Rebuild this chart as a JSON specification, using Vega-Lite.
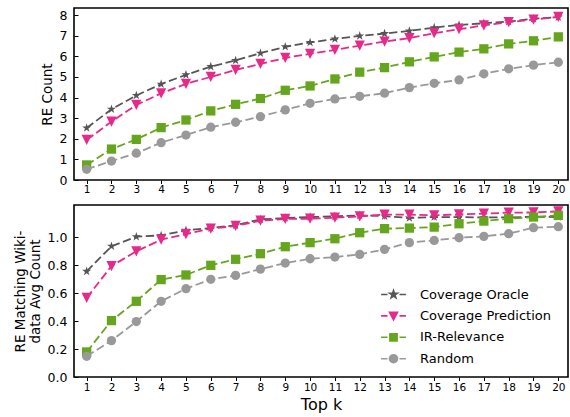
{
  "$schema": "https://vega.github.io/schema/vega-lite/v6.json",
  "padding": {"left": 12, "top": 7, "right": 2, "bottom": 2},
  "spacing": 25,
  "bounds": "flush",
  "config": {
    "font": "DejaVu Sans",
    "view": {"stroke": "black", "strokeWidth": 1.6},
    "axis": {"domain": false, "grid": false, "tickColor": "black", "tickWidth": 1, "labelColor": "black", "titleColor": "black", "titleFontWeight": "normal", "labelFont": "DejaVu Sans", "titleFont": "DejaVu Sans"},
    "legend": {"labelFont": "DejaVu Sans"}
  },
  "datasets": {
    "top": [
      {"k":1,"series":"Coverage Oracle","v":2.52},{"k":2,"series":"Coverage Oracle","v":3.43},{"k":3,"series":"Coverage Oracle","v":4.10},{"k":4,"series":"Coverage Oracle","v":4.65},{"k":5,"series":"Coverage Oracle","v":5.10},{"k":6,"series":"Coverage Oracle","v":5.50},{"k":7,"series":"Coverage Oracle","v":5.80},{"k":8,"series":"Coverage Oracle","v":6.15},{"k":9,"series":"Coverage Oracle","v":6.46},{"k":10,"series":"Coverage Oracle","v":6.67},{"k":11,"series":"Coverage Oracle","v":6.84},{"k":12,"series":"Coverage Oracle","v":6.99},{"k":13,"series":"Coverage Oracle","v":7.10},{"k":14,"series":"Coverage Oracle","v":7.23},{"k":15,"series":"Coverage Oracle","v":7.39},{"k":16,"series":"Coverage Oracle","v":7.52},{"k":17,"series":"Coverage Oracle","v":7.60},{"k":18,"series":"Coverage Oracle","v":7.68},{"k":19,"series":"Coverage Oracle","v":7.82},{"k":20,"series":"Coverage Oracle","v":7.90},
      {"k":1,"series":"Coverage Prediction","v":1.94},{"k":2,"series":"Coverage Prediction","v":2.83},{"k":3,"series":"Coverage Prediction","v":3.64},{"k":4,"series":"Coverage Prediction","v":4.20},{"k":5,"series":"Coverage Prediction","v":4.66},{"k":6,"series":"Coverage Prediction","v":5.00},{"k":7,"series":"Coverage Prediction","v":5.34},{"k":8,"series":"Coverage Prediction","v":5.63},{"k":9,"series":"Coverage Prediction","v":5.92},{"k":10,"series":"Coverage Prediction","v":6.12},{"k":11,"series":"Coverage Prediction","v":6.31},{"k":12,"series":"Coverage Prediction","v":6.52},{"k":13,"series":"Coverage Prediction","v":6.71},{"k":14,"series":"Coverage Prediction","v":6.88},{"k":15,"series":"Coverage Prediction","v":7.12},{"k":16,"series":"Coverage Prediction","v":7.31},{"k":17,"series":"Coverage Prediction","v":7.50},{"k":18,"series":"Coverage Prediction","v":7.65},{"k":19,"series":"Coverage Prediction","v":7.78},{"k":20,"series":"Coverage Prediction","v":7.91},
      {"k":1,"series":"IR-Relevance","v":0.73},{"k":2,"series":"IR-Relevance","v":1.50},{"k":3,"series":"IR-Relevance","v":1.97},{"k":4,"series":"IR-Relevance","v":2.54},{"k":5,"series":"IR-Relevance","v":2.91},{"k":6,"series":"IR-Relevance","v":3.35},{"k":7,"series":"IR-Relevance","v":3.67},{"k":8,"series":"IR-Relevance","v":3.95},{"k":9,"series":"IR-Relevance","v":4.35},{"k":10,"series":"IR-Relevance","v":4.56},{"k":11,"series":"IR-Relevance","v":4.90},{"k":12,"series":"IR-Relevance","v":5.23},{"k":13,"series":"IR-Relevance","v":5.45},{"k":14,"series":"IR-Relevance","v":5.73},{"k":15,"series":"IR-Relevance","v":5.97},{"k":16,"series":"IR-Relevance","v":6.20},{"k":17,"series":"IR-Relevance","v":6.36},{"k":18,"series":"IR-Relevance","v":6.60},{"k":19,"series":"IR-Relevance","v":6.75},{"k":20,"series":"IR-Relevance","v":6.94},
      {"k":1,"series":"Random","v":0.52},{"k":2,"series":"Random","v":0.92},{"k":3,"series":"Random","v":1.30},{"k":4,"series":"Random","v":1.81},{"k":5,"series":"Random","v":2.18},{"k":6,"series":"Random","v":2.56},{"k":7,"series":"Random","v":2.80},{"k":8,"series":"Random","v":3.07},{"k":9,"series":"Random","v":3.40},{"k":10,"series":"Random","v":3.72},{"k":11,"series":"Random","v":3.93},{"k":12,"series":"Random","v":4.06},{"k":13,"series":"Random","v":4.21},{"k":14,"series":"Random","v":4.48},{"k":15,"series":"Random","v":4.69},{"k":16,"series":"Random","v":4.85},{"k":17,"series":"Random","v":5.15},{"k":18,"series":"Random","v":5.39},{"k":19,"series":"Random","v":5.57},{"k":20,"series":"Random","v":5.71}
    ],
    "bottom": [
      {"k":1,"series":"Coverage Oracle","v":0.755},{"k":2,"series":"Coverage Oracle","v":0.934},{"k":3,"series":"Coverage Oracle","v":1.003},{"k":4,"series":"Coverage Oracle","v":1.012},{"k":5,"series":"Coverage Oracle","v":1.048},{"k":6,"series":"Coverage Oracle","v":1.064},{"k":7,"series":"Coverage Oracle","v":1.084},{"k":8,"series":"Coverage Oracle","v":1.126},{"k":9,"series":"Coverage Oracle","v":1.136},{"k":10,"series":"Coverage Oracle","v":1.143},{"k":11,"series":"Coverage Oracle","v":1.148},{"k":12,"series":"Coverage Oracle","v":1.155},{"k":13,"series":"Coverage Oracle","v":1.150},{"k":14,"series":"Coverage Oracle","v":1.136},{"k":15,"series":"Coverage Oracle","v":1.143},{"k":16,"series":"Coverage Oracle","v":1.143},{"k":17,"series":"Coverage Oracle","v":1.140},{"k":18,"series":"Coverage Oracle","v":1.140},{"k":19,"series":"Coverage Oracle","v":1.145},{"k":20,"series":"Coverage Oracle","v":1.143},
      {"k":1,"series":"Coverage Prediction","v":0.565},{"k":2,"series":"Coverage Prediction","v":0.793},{"k":3,"series":"Coverage Prediction","v":0.898},{"k":4,"series":"Coverage Prediction","v":0.981},{"k":5,"series":"Coverage Prediction","v":1.021},{"k":6,"series":"Coverage Prediction","v":1.060},{"k":7,"series":"Coverage Prediction","v":1.079},{"k":8,"series":"Coverage Prediction","v":1.117},{"k":9,"series":"Coverage Prediction","v":1.129},{"k":10,"series":"Coverage Prediction","v":1.131},{"k":11,"series":"Coverage Prediction","v":1.138},{"k":12,"series":"Coverage Prediction","v":1.148},{"k":13,"series":"Coverage Prediction","v":1.160},{"k":14,"series":"Coverage Prediction","v":1.160},{"k":15,"series":"Coverage Prediction","v":1.155},{"k":16,"series":"Coverage Prediction","v":1.162},{"k":17,"series":"Coverage Prediction","v":1.167},{"k":18,"series":"Coverage Prediction","v":1.174},{"k":19,"series":"Coverage Prediction","v":1.176},{"k":20,"series":"Coverage Prediction","v":1.183},
      {"k":1,"series":"IR-Relevance","v":0.179},{"k":2,"series":"IR-Relevance","v":0.403},{"k":3,"series":"IR-Relevance","v":0.541},{"k":4,"series":"IR-Relevance","v":0.696},{"k":5,"series":"IR-Relevance","v":0.729},{"k":6,"series":"IR-Relevance","v":0.798},{"k":7,"series":"IR-Relevance","v":0.841},{"k":8,"series":"IR-Relevance","v":0.881},{"k":9,"series":"IR-Relevance","v":0.931},{"k":10,"series":"IR-Relevance","v":0.960},{"k":11,"series":"IR-Relevance","v":0.988},{"k":12,"series":"IR-Relevance","v":1.031},{"k":13,"series":"IR-Relevance","v":1.060},{"k":14,"series":"IR-Relevance","v":1.064},{"k":15,"series":"IR-Relevance","v":1.071},{"k":16,"series":"IR-Relevance","v":1.095},{"k":17,"series":"IR-Relevance","v":1.114},{"k":18,"series":"IR-Relevance","v":1.131},{"k":19,"series":"IR-Relevance","v":1.143},{"k":20,"series":"IR-Relevance","v":1.155},
      {"k":1,"series":"Random","v":0.148},{"k":2,"series":"Random","v":0.260},{"k":3,"series":"Random","v":0.396},{"k":4,"series":"Random","v":0.541},{"k":5,"series":"Random","v":0.631},{"k":6,"series":"Random","v":0.698},{"k":7,"series":"Random","v":0.726},{"k":8,"series":"Random","v":0.771},{"k":9,"series":"Random","v":0.814},{"k":10,"series":"Random","v":0.845},{"k":11,"series":"Random","v":0.857},{"k":12,"series":"Random","v":0.876},{"k":13,"series":"Random","v":0.912},{"k":14,"series":"Random","v":0.960},{"k":15,"series":"Random","v":0.976},{"k":16,"series":"Random","v":0.995},{"k":17,"series":"Random","v":1.005},{"k":18,"series":"Random","v":1.024},{"k":19,"series":"Random","v":1.067},{"k":20,"series":"Random","v":1.074}
    ]
  },
  "vconcat": [
    {
      "width": 494,
      "height": 172,
      "data": {"name": "top"},
      "encoding": {
        "x": {"field": "k", "type": "quantitative", "scale": {"domain": [0.49, 20.39], "nice": false, "zero": false},
              "axis": {"values": [1,2,3,4,5,6,7,8,9,10,11,12,13,14,15,16,17,18,19,20], "title": null, "labelFontSize": 10.5, "tickSize": 3.5, "labelPadding": 1, "labelFlush": false}},
        "y": {"field": "v", "type": "quantitative", "scale": {"domain": [0, 8.34], "nice": false, "zero": true},
              "axis": {"values": [0,1,2,3,4,5,6,7,8], "title": "RE Count", "labelFontSize": 12.5, "titleFontSize": 13.5, "tickSize": -4, "labelPadding": 11, "titlePadding": 5, "labelFlush": false}}
      },
      "layer": [
        {"transform": [{"filter": "datum.series == 'Coverage Oracle'"}],
         "mark": {"type": "line", "color": "#555555", "strokeWidth": 1.8, "strokeDash": [8.3, 3.6], "point": {"shape": "M0,-1L0.2245,-0.309L0.951,-0.309L0.363,0.118L0.588,0.809L0,0.382L-0.588,0.809L-0.363,0.118L-0.951,-0.309L-0.2245,-0.309Z", "size": 90, "filled": true, "color": "#555555", "opacity": 1}}},
        {"transform": [{"filter": "datum.series == 'Coverage Prediction'"}],
         "mark": {"type": "line", "color": "#e7298a", "strokeWidth": 1.8, "strokeDash": [8.3, 3.6], "point": {"shape": "M-1,-1L1,-1L0,1Z", "size": 105, "filled": true, "color": "#e7298a", "opacity": 1}}},
        {"transform": [{"filter": "datum.series == 'IR-Relevance'"}],
         "mark": {"type": "line", "color": "#66a61e", "strokeWidth": 1.8, "strokeDash": [8.3, 3.6], "point": {"shape": "square", "size": 86, "filled": true, "color": "#66a61e", "opacity": 1}}},
        {"transform": [{"filter": "datum.series == 'Random'"}],
         "mark": {"type": "line", "color": "#999999", "strokeWidth": 1.8, "strokeDash": [8.3, 3.6], "point": {"shape": "circle", "size": 86, "filled": true, "color": "#999999", "opacity": 1}}}
      ]
    },
    {
      "width": 494,
      "height": 172,
      "data": {"name": "bottom"},
      "encoding": {
        "x": {"field": "k", "type": "quantitative", "scale": {"domain": [0.49, 20.39], "nice": false, "zero": false},
              "axis": {"values": [1,2,3,4,5,6,7,8,9,10,11,12,13,14,15,16,17,18,19,20], "title": "Top k", "titleFontSize": 16, "titlePadding": 3, "labelFontSize": 10.5, "tickSize": 3.5, "labelPadding": 2, "labelFlush": false}},
        "y": {"field": "v", "type": "quantitative", "scale": {"domain": [0, 1.229], "nice": false, "zero": true},
              "axis": {"values": [0,0.2,0.4,0.6,0.8,1.0], "format": ".1f", "title": ["RE Matching Wiki-", "data Avg Count"], "titleLineHeight": 15, "labelFontSize": 12.5, "titleFontSize": 13.5, "tickSize": -4, "labelPadding": 11, "titlePadding": 5, "labelFlush": false}}
      },
      "layer": [
        {"transform": [{"filter": "datum.series == 'Coverage Oracle'"}],
         "mark": {"type": "line", "color": "#555555", "strokeWidth": 1.8, "strokeDash": [8.3, 3.6], "point": {"shape": "M0,-1L0.2245,-0.309L0.951,-0.309L0.363,0.118L0.588,0.809L0,0.382L-0.588,0.809L-0.363,0.118L-0.951,-0.309L-0.2245,-0.309Z", "size": 90, "filled": true, "color": "#555555", "opacity": 1}}},
        {"transform": [{"filter": "datum.series == 'Coverage Prediction'"}],
         "mark": {"type": "line", "color": "#e7298a", "strokeWidth": 1.8, "strokeDash": [8.3, 3.6], "point": {"shape": "M-1,-1L1,-1L0,1Z", "size": 105, "filled": true, "color": "#e7298a", "opacity": 1}}},
        {"transform": [{"filter": "datum.series == 'IR-Relevance'"}],
         "mark": {"type": "line", "color": "#66a61e", "strokeWidth": 1.8, "strokeDash": [8.3, 3.6], "point": {"shape": "square", "size": 86, "filled": true, "color": "#66a61e", "opacity": 1}}},
        {"transform": [{"filter": "datum.series == 'Random'"}],
         "mark": {"type": "line", "color": "#999999", "strokeWidth": 1.8, "strokeDash": [8.3, 3.6], "point": {"shape": "circle", "size": 86, "filled": true, "color": "#999999", "opacity": 1}}},
        {"transform": [{"filter": "datum.k < 0"}],
         "mark": {"type": "point", "filled": true, "opacity": 1, "strokeWidth": 1.6},
         "encoding": {
           "fill": {"field": "series", "type": "nominal",
             "scale": {"domain": ["Coverage Oracle", "Coverage Prediction", "IR-Relevance", "Random"], "range": ["#555555", "#e7298a", "#66a61e", "#999999"]},
             "legend": {"orient": "none", "legendX": 313, "legendY": 280, "title": null, "labelFontSize": 13, "labelColor": "black", "symbolSize": 64, "symbolStrokeWidth": 1.6, "symbolOpacity": 1, "labelOffset": 20, "rowPadding": 6.4, "padding": 0}},
           "stroke": {"field": "series", "type": "nominal",
             "scale": {"domain": ["Coverage Oracle", "Coverage Prediction", "IR-Relevance", "Random"], "range": ["#555555", "#e7298a", "#66a61e", "#999999"]},
             "legend": {"orient": "none", "legendX": 313, "legendY": 280, "title": null, "labelFontSize": 13, "labelColor": "black", "symbolSize": 64, "symbolStrokeWidth": 1.6, "symbolOpacity": 1, "labelOffset": 20, "rowPadding": 6.4, "padding": 0}},
           "shape": {"field": "series", "type": "nominal",
             "scale": {"domain": ["Coverage Oracle", "Coverage Prediction", "IR-Relevance", "Random"],
               "range": [
                 "M-3.1,0H-1.5M1.5,0H3.1M0,-1L0.2245,-0.309L0.951,-0.309L0.363,0.118L0.588,0.809L0,0.382L-0.588,0.809L-0.363,0.118L-0.951,-0.309L-0.2245,-0.309Z",
                 "M-3.1,0H-1.5M1.5,0H3.1M-1,-0.9L1,-0.9L0,1Z",
                 "M-3.1,0H-1.5M1.5,0H3.1M-0.9,-0.9H0.9V0.9H-0.9Z",
                 "M-3.1,0H-1.5M1.5,0H3.1M1,0A1,1 0 1,1 -1,0A1,1 0 1,1 1,0Z"
               ]},
             "legend": {"orient": "none", "legendX": 313, "legendY": 280, "title": null, "labelFontSize": 13, "labelColor": "black", "symbolSize": 64, "symbolStrokeWidth": 1.6, "symbolOpacity": 1, "labelOffset": 20, "rowPadding": 6.4, "padding": 0}}
         }}
      ]
    }
  ]
}
